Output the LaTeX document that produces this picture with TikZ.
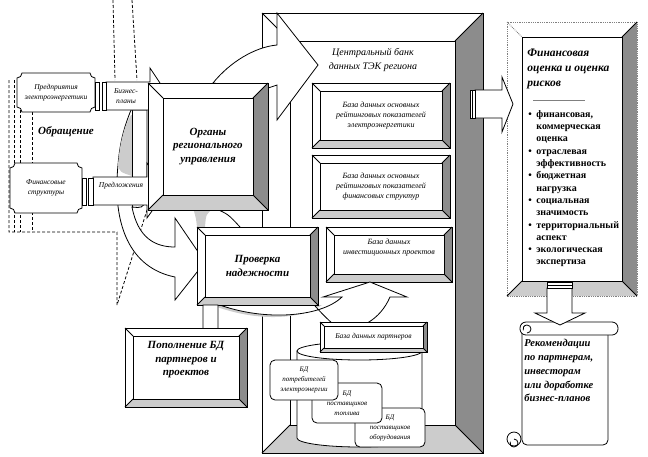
\documentclass[tikz,border=0pt]{standalone}
\usepackage{fontspec}
\setmainfont{Liberation Serif}
\usetikzlibrary{positioning,calc}
\definecolor{bevdark}{gray}{0.55}
\definecolor{bevlight}{gray}{0.80}
\tikzset{
    % box with a bevelled frame, frame drawn by \bevel
    bevbox/.style={
           rectangle,
           fill=white,
           inner sep=0pt, outer sep=0pt,
           align=center},
    % small italic captions
    captxt/.style={font=\fontsize{7.5}{10}\selectfont\itshape, align=center},
    dbtxt/.style={font=\fontsize{8}{10}\selectfont\itshape, align=center},
    headtxt/.style={font=\fontsize{11}{13.5}\selectfont\bfseries\itshape, align=center},
    % database cards
    dbcard/.style={
           rectangle,
           rounded corners=5pt,
           draw, fill=white,
           inner sep=0pt,
           font=\fontsize{7}{10}\selectfont\itshape, align=center},
    % block arrows
    blockarr/.style={draw=black, fill=white, line join=miter},
    hidden/.style={dash pattern=on 3pt off 2pt}
}
% bevelled frame round a node: #2 node, #3 depth, #1 style of the outer rim
\newcommand{\bevel}[3][]{%
  \fill[bevdark] (#2.north east) -- (#2.south east) -- ($(#2.south east)+(-#3,-#3)$) -- ($(#2.north east)+(-#3,#3)$) -- cycle;
  \fill[bevlight] (#2.south west) -- (#2.south east) -- ($(#2.south east)+(-#3,-#3)$) -- ($(#2.south west)+(#3,-#3)$) -- cycle;
  \draw[#1] (#2.north west) rectangle (#2.south east);
  \draw[#1] (#2.north west) -- ++(#3,#3);
  \draw ($(#2.north west)+(#3,#3)$) rectangle ($(#2.south east)+(-#3,-#3)$);
  \draw (#2.north east) -- ++(-#3,#3) (#2.south west) -- ++(#3,-#3) (#2.south east) -- ++(-#3,-#3);
}
% plaque with hollow corners: #1 name, #2-#5 corners, #6 text
\newcommand{\plaque}[6]{%
  \draw[fill=white] ({#2+5},#3) -- ({#4-5},#3) arc[start angle=180,end angle=270,radius=5pt]
     -- ({#4},{#5-5}) arc[start angle=90,end angle=180,radius=5pt]
     -- ({#2+5},#5) arc[start angle=0,end angle=90,radius=5pt]
     -- ({#2},{#3+5}) arc[start angle=270,end angle=360,radius=5pt] -- cycle;
  \node[captxt] (#1) at ({(#2+#4)/2},{(#3+#5)/2}) {#6};
}
\newcommand{\fitem}[1]{\makebox[8pt][l]{\textbullet}#1}
\newcommand{\fcont}[1]{\hspace*{8pt}#1}

\begin{document}
\begin{tikzpicture}[x=1pt,y=-1pt,line width=0.8pt]
  \useasboundingbox (0,0) rectangle (648,456);

  % hidden lines
  \draw[hidden] (9,80) -- (9,232) -- (117,232) -- (117,305) -- (147,210);
  \draw[hidden] (14,80) -- (14,232);
  \draw[hidden] (20,80) -- (20,232);
  \draw[hidden] (32,112) -- (32,232);
  \draw[hidden] (113,0) -- (115,80);
  \draw[hidden] (132,0) -- (137,80);

  % curved arrow down to the check
  \draw[blockarr] (131,110) -- (147,110) -- (147,200) .. controls (142,208) .. (132,207)
      .. controls (138,238) and (155,247) .. (175,247) -- (175,218) -- (205,262) -- (175,300) -- (175,277)
      .. controls (130,268) and (112,225) .. (118,165) .. controls (120,140) and (125,125) .. (131,110);
  \fill[bevlight] (131,115) .. controls (125,125) and (120,140) .. (118,165) .. controls (120,172) .. (132,176) -- (132,115) -- cycle;
  \draw (132,110) -- (132,207);

  % sources
  \plaque{ent}{17}{73}{95}{112}{Предприятия\\электроэнергетики}
  \plaque{fins}{10}{163}{82}{213}{Финансовые\\структуры}
  \node[font=\fontsize{11}{13}\selectfont\bfseries\itshape] (obr) at (66,132) {Обращение};

  \draw[blockarr] (106,82) -- (150,82) -- (150,68) -- (168,95) -- (150,123) -- (150,110) -- (106,110) -- cycle;
  \draw[fill=white] (95,82) rectangle (99,110) (102,82) rectangle (106,110);
  \node[captxt] (biz) at (126,96) {Бизнес-\\планы};
  \draw[blockarr] (93,177) -- (147,177) -- (147,163) -- (167,190) -- (147,218) -- (147,205) -- (93,205) -- cycle;
  \draw[fill=white] (82,178) rectangle (86,205) (88,178) rectangle (93,205);
  \node[captxt] (pred) at (121,186) {Предложения};

  % central data bank
  \node[bevbox, minimum width=221, minimum height=440] (bank) at (372.5,233) {};
  \bevel{bank}{28}
  \node[font=\fontsize{10}{14}\selectfont\itshape, align=center] (banktit) at (373,60) {Центральный банк\\данных ТЭК региона};

  % arrow into the bank
  \draw[blockarr] (213,83) .. controls (230,62) and (255,47) .. (277,45) -- (277,13) -- (318,65) -- (277,120)
      -- (277,85) -- (262,90) -- cycle;
  % band passing below the regional bodies
  \fill[bevlight] (193,208) -- (214,208) .. controls (206,214) .. (205,227) -- (197,227) .. controls (196,218) .. (193,208);
  \draw (214,208) .. controls (228,214) .. (240,227);

  % regional bodies
  \node[bevbox, minimum width=120, minimum height=127, headtxt] (org) at (208,146.5) {Органы\\регионального\\управления};
  \bevel{org}{15}

  % bank contents
  \node[bevbox, minimum width=138, minimum height=65, dbtxt] (db1) at (381,115.5) {База данных основных\\рейтинговых показателей\\электроэнергетики};
  \bevel{db1}{8}
  \node[bevbox, minimum width=138, minimum height=63, dbtxt] (db2) at (381,186.5) {База данных основных\\рейтинговых показателей\\финансовых структур};
  \bevel{db2}{8}
  \node[bevbox, minimum width=126, minimum height=55, dbtxt] (db3) at (389,254.5) {База данных\\инвестиционных проектов\\[6pt]};
  \bevel{db3}{8}

  % arrow from the check to the projects
  \fill[bevlight] (212,305) .. controls (255,322) and (300,320) .. (322,305) -- cycle;
  \draw[blockarr] (212,302) .. controls (260,322) and (320,318) .. (342,297) -- (323,297) -- (370,282) -- (407,297) -- (390,297)
      .. controls (380,320) and (360,330) .. (340,330) .. controls (330,322) and (318,310) .. (310,300);

  % check
  \node[bevbox, minimum width=121, minimum height=78, headtxt] (prov) at (257.5,266) {Проверка\\надежности};
  \bevel{prov}{8}
  \draw[blockarr] (203,305) -- (218,305) -- (218,332) -- (224,332) -- (211,339) -- (198,332) -- (203,332) -- cycle;
  \node[bevbox, minimum width=122, minimum height=79, headtxt] (pop) at (186,367.5) {Пополнение БД\\партнеров и\\проектов\\[4pt]};
  \bevel{pop}{8}

  % partner database
  \draw[fill=white] (297,351) -- (297,438) arc[start angle=180,end angle=360,x radius=62.5pt,y radius=9pt] -- (422,351) -- cycle;
  \draw[fill=white] (359.5,351) ellipse[x radius=62.5pt,y radius=9pt];
  \node[bevbox, minimum width=107, minimum height=30, font=\fontsize{7.5}{9}\selectfont\itshape] (dbp) at (373.5,337) {База данных партнеров};
  \bevel{dbp}{4}
  \node[dbcard, minimum width=70, minimum height=39] (card3) at (390,427.5) {БД\\поставщиков\\оборудования};
  \node[dbcard, minimum width=70, minimum height=40] (card2) at (347,403) {БД\\поставщиков\\топлива};
  \node[dbcard, minimum width=68, minimum height=40] (card1) at (304,380) {БД\\потребителей\\электроэнергии};

  % financial evaluation
  \node[bevbox, minimum width=130, minimum height=274] (fin) at (572,159) {};
  \bevel[densely dotted, gray]{fin}{15}
  \node[anchor=north west, font=\fontsize{11.5}{15}\selectfont\bfseries\itshape, align=left, inner sep=0pt] (fintit) at (527,49) {Финансовая\\оценка и оценка\\рисков};
  \draw[gray] (533,100) -- (585,100);
  \node[anchor=north west, font=\fontsize{10}{12.3}\selectfont\bfseries, align=left, inner sep=0pt] (finlist) at (528,110)
     {\fitem{финансовая,}\\\fcont{коммерческая}\\\fcont{оценка}\\\fitem{отраслевая}\\\fcont{эффективность}\\
      \fitem{бюджетная}\\\fcont{нагрузка}\\\fitem{социальная}\\\fcont{значимость}\\\fitem{территориальный}\\
      \fcont{аспект}\\\fitem{экологическая}\\\fcont{экспертиза}};
  \draw[blockarr] (475,90) -- (502,90) -- (502,77) -- (513,104) -- (502,132) -- (502,118) -- (475,118) -- cycle;
  \draw[fill=white] (470,90) rectangle (472.5,118) (472.5,90) rectangle (475,118);

  % recommendations scroll
  \draw[fill=white, rounded corners=5pt] (522,330) -- (522,445) -- (608,445) -- (608,330);
  \draw[fill=white] (514,439) circle[radius=7pt];
  \draw (514,439) arc[start angle=90,end angle=-200,radius=4pt];
  \draw[fill=white, rounded corners=6pt] (520,322) rectangle (618,335);
  \draw (527,333) arc[start angle=-90,end angle=200,radius=4pt];
  \node[anchor=north west, font=\fontsize{10.5}{13.8}\selectfont\bfseries\itshape, align=left, inner sep=0pt] (rec) at (524,339)
     {Рекомендации\\по партнерам,\\инвесторам\\или доработке\\бизнес-планов};
  \draw[blockarr] (547,288) -- (572,288) -- (572,313) -- (585,313) -- (560,325) -- (535,313) -- (547,313) -- cycle;
  \draw[fill=white] (547,282) rectangle (572,285) (547,285) rectangle (572,288);
\end{tikzpicture}
\end{document}
